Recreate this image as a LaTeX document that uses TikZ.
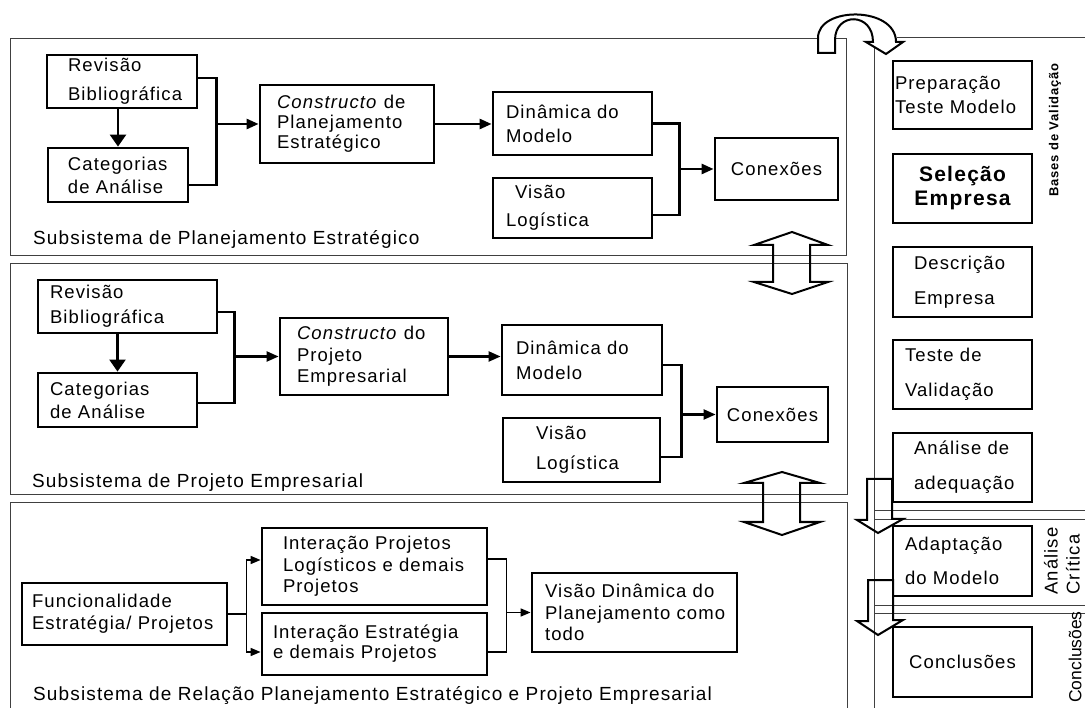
\documentclass[tikz,border=0pt]{standalone}
\usepackage{fontspec}
\setmainfont{Liberation Sans}[LetterSpace=6]
\newfontfamily\tightsans{Liberation Sans}
\usetikzlibrary{arrows.meta,calc}

% text block of width #1 with left indent #2
\newcommand{\bxt}[3]{\parbox{#1pt}{\raggedright\leftskip=#2pt\rightskip=-60pt plus 1fil\relax #3}}

\begin{document}
\begin{tikzpicture}[x=1pt,y=-1pt,
  lead/.style={font=\fontsize{18.5}{#1}\selectfont},
  lead/.default=22,
  lbox/.style={draw, line width=2.8, inner sep=0, lead},
  rbox/.style={draw, line width=1.8, inner sep=0, lead, minimum width=139},
  panel/.style={draw=black!75, line width=1},
  hollow/.style={draw, line width=2, line join=miter},
  c1/.style={line width=2.6},
  c2/.style={line width=2.2},
  c3/.style={line width=1.6},
  arr/.style={-{Triangle[length=12pt,width=10pt]}},
  arrd/.style={-{Triangle[length=12pt,width=16pt]}},
  arrs/.style={-{Triangle[length=10pt,width=8pt]}},
  sublabel/.style={anchor=base west, inner sep=0, font=\fontsize{19}{22}\selectfont}]
\useasboundingbox (0,0) rectangle (1085,708);
\fill[white] (0,0) rectangle (1085,708);

% subsystem frames
\draw[panel] (10,39) rectangle (846,256);
\draw[panel] (10,264) rectangle (847,495);
\draw[panel] (10,712) -- (10,503) -- (847,503) -- (847,712);

% validation column frame
\draw[panel] (874,712) -- (874,46);
\draw[panel] (897,38) -- (1090,38);
\draw[panel] (874,511) -- (1090,511);
\draw[panel] (874,520) -- (1090,520);
\draw[panel] (874,605) -- (1090,605);
\draw[panel] (874,613) -- (1090,613);

% U-turn arrow into the validation column
\filldraw[hollow, fill=white] (818,53) -- (818,38) .. controls (818,6) and (896,6) .. (896,42)
  -- (903,42) -- (886,54) -- (866,42) -- (873,42)
  .. controls (873,12) and (835,12) .. (835,40) -- (835,53) -- cycle;

% two-way arrows between subsystems
\draw[hollow] (792,232) -- (828,245) -- (810,245) -- (810,282) -- (828,282) -- (792,294)
  -- (754,282) -- (773,282) -- (773,245) -- (754,245) -- cycle;
\draw[hollow] (782,472) -- (820,483) -- (800,483) -- (800,522) -- (820,522) -- (782,535)
  -- (744,522) -- (763,522) -- (763,483) -- (744,483) -- cycle;

% down arrows in the validation column
\draw[hollow] (867,479) -- (892,479) -- (892,519) -- (903,519) -- (878,533) -- (857,520)
  -- (867,520) -- cycle;
\draw[hollow] (868,580) -- (893,580) -- (893,620) -- (903,620) -- (878,635) -- (857,621)
  -- (868,621) -- cycle;

% --- Subsistema de Planejamento Estratégico
\node[lbox, minimum width=150, minimum height=53, lead=29] (rb1) at (122,81.5) {\bxt{150}{21}{Revisão\\Bibliográfica}};
\node[lbox, minimum width=140, minimum height=54, lead=23] (ca1) at (118,175) {\bxt{140}{20}{Categorias\\de Análise}};
\node[lbox, minimum width=174, minimum height=78, lead=20] (co1) at (347,124) {\bxt{174}{17}{\textit{Constructo} de\\Planejamento\\Estratégico}};
\node[lbox, minimum width=159, minimum height=63, lead=24] (di1) at (572.5,123.5) {\bxt{159}{13}{Dinâmica do\\Modelo}};
\node[lbox, minimum width=159, minimum height=60, lead=28] (vl1) at (572.5,208) {\bxt{159}{13}{\hspace*{9pt}Visão\\Logística}};
\node[lbox, minimum width=123, minimum height=62] (cx1) at (776.5,169) {Conexões};
\node[sublabel] (l1) at (33,245) {Subsistema de Planejamento Estratégico};

\draw[c1, arrd] (rb1.south -| ca1.north) -- (ca1.north);
\draw[c1] ($(rb1.east)+(0,-3.5)$) -- ++(18,0) coordinate (j1) |- ($(ca1.east)+(0,10)$);
\draw[c1, arr] (j1 |- co1.west) -- (co1.west);
\draw[c1, arr] (co1.east) -- (co1.east -| di1.west);
\draw[c1] (di1.east) -- ++(26,0) coordinate (j2) |- ($(vl1.east)+(0,7)$);
\draw[c1, arr] (j2 |- cx1.west) -- (cx1.west);

% --- Subsistema de Projeto Empresarial
\node[lbox, minimum width=179, minimum height=53, lead=25] (rb2) at (127.5,306.5) {\bxt{179}{12}{Revisão\\Bibliográfica}};
\node[lbox, minimum width=159, minimum height=54, lead=23] (ca2) at (117.5,400) {\bxt{159}{12}{Categorias\\de Análise}};
\node[lbox, minimum width=168, minimum height=77, lead=21.5] (co2) at (364,356.5) {\bxt{168}{17}{\textit{Constructo} do\\Projeto\\Empresarial}};
\node[lbox, minimum width=160, minimum height=70, lead=25] (di2) at (582,360) {\bxt{160}{14}{Dinâmica do\\Modelo}};
\node[lbox, minimum width=157, minimum height=64, lead=30] (vl2) at (581.5,450) {\bxt{157}{33}{Visão\\Logística}};
\node[lbox, minimum width=111, minimum height=55] (cx2) at (772.5,414.5) {Conexões};
\node[sublabel] (l2) at (32,488) {Subsistema de Projeto Empresarial};

\draw[c2, arrd] (ca2.north |- rb2.south) -- (ca2.north);
\draw[c2] ($(rb2.east)+(0,5.5)$) -- ++(16,0) coordinate (j3) |- ($(ca2.east)+(0,3)$);
\draw[c2, arr] (j3 |- co2.west) -- (co2.west);
\draw[c2, arr] (co2.east) -- (co2.east -| di2.west);
\draw[c2] ($(di2.east)+(0,5)$) -- ++(18,0) coordinate (j4) |- ($(vl2.east)+(0,7)$);
\draw[c2, arr] (j4 |- cx2.west) -- (cx2.west);

% --- Subsistema de Relação Planejamento Estratégico e Projeto Empresarial
\node[lbox, minimum width=205, minimum height=62, lead=22] (fu) at (124.5,614) {\bxt{205}{10}{Funcionalidade\\Estratégia/ Projetos}};
\node[lbox, minimum width=225, minimum height=77, lead=21.5] (ip) at (374.5,566.5) {\bxt{225}{21}{Interação Projetos\\Logísticos e demais\\Projetos}};
\node[lbox, minimum width=225, minimum height=62, lead=20] (ic) at (374.5,644) {\bxt{225}{11}{Interação Estratégia\\e demais Projetos}};
\node[lbox, minimum width=205, minimum height=79, lead=21.5] (vd) at (634.5,612.5) {\bxt{205}{13}{Visão Dinâmica do\\Planejamento como\\todo}};
\node[sublabel] (l3) at (33,700) {Subsistema de Relação Planejamento Estratégico e Projeto Empresarial};

\draw[c3] (fu.east) -- ++(18,0) coordinate (j5);
\draw[c3, arrs] (j5) |- ($(ip.west)+(0,-6.5)$);
\draw[c3, arrs] (j5) |- ($(ic.west)+(0,8)$);
\draw[c3] ($(ip.east)+(0,-7.5)$) -- ++(18,0) coordinate (j6) |- ($(ic.east)+(0,8)$);
\draw[c3, arrs] (j6 |- vd.west) -- (vd.west);

% --- validation column
\node[rbox, minimum height=68, lead=24] (pt) at (962.5,95) {\bxt{139}{2}{Preparação\\Teste Modelo}};
\node[rbox, minimum height=69, align=center, font=\bfseries\fontsize{21}{24}\selectfont] (se) at (962.5,188.5) {Seleção\\Empresa};
\node[rbox, minimum height=70, lead=35] (de) at (962.5,282) {\bxt{139}{21}{Descrição\\Empresa}};
\node[rbox, minimum height=69, lead=35] (tv) at (962.5,374.5) {\bxt{139}{12}{Teste de\\Validação}};
\node[rbox, minimum height=69, lead=35] (an) at (962.5,467.5) {\bxt{139}{21}{Análise de\\adequação}};
\node[rbox, minimum height=70, lead=34] (ad) at (962.5,561) {\bxt{139}{12}{Adaptação\\do Modelo}};
\node[rbox, minimum height=70] (cc) at (962.5,662) {Conclusões};

\node[rotate=90, font=\bfseries\fontsize{13}{15}\selectfont] (bv) at (1055,130) {Bases de Validação};
\node[rotate=90, align=left, font=\fontsize{18.5}{22}\selectfont] (ac) at (1062,561) {Análise\\Crítica};
\node[rotate=90, inner sep=0, font=\tightsans\fontsize{17.5}{20}\selectfont] (cl) at (1075,657) {Conclusões};
\end{tikzpicture}
\end{document}
